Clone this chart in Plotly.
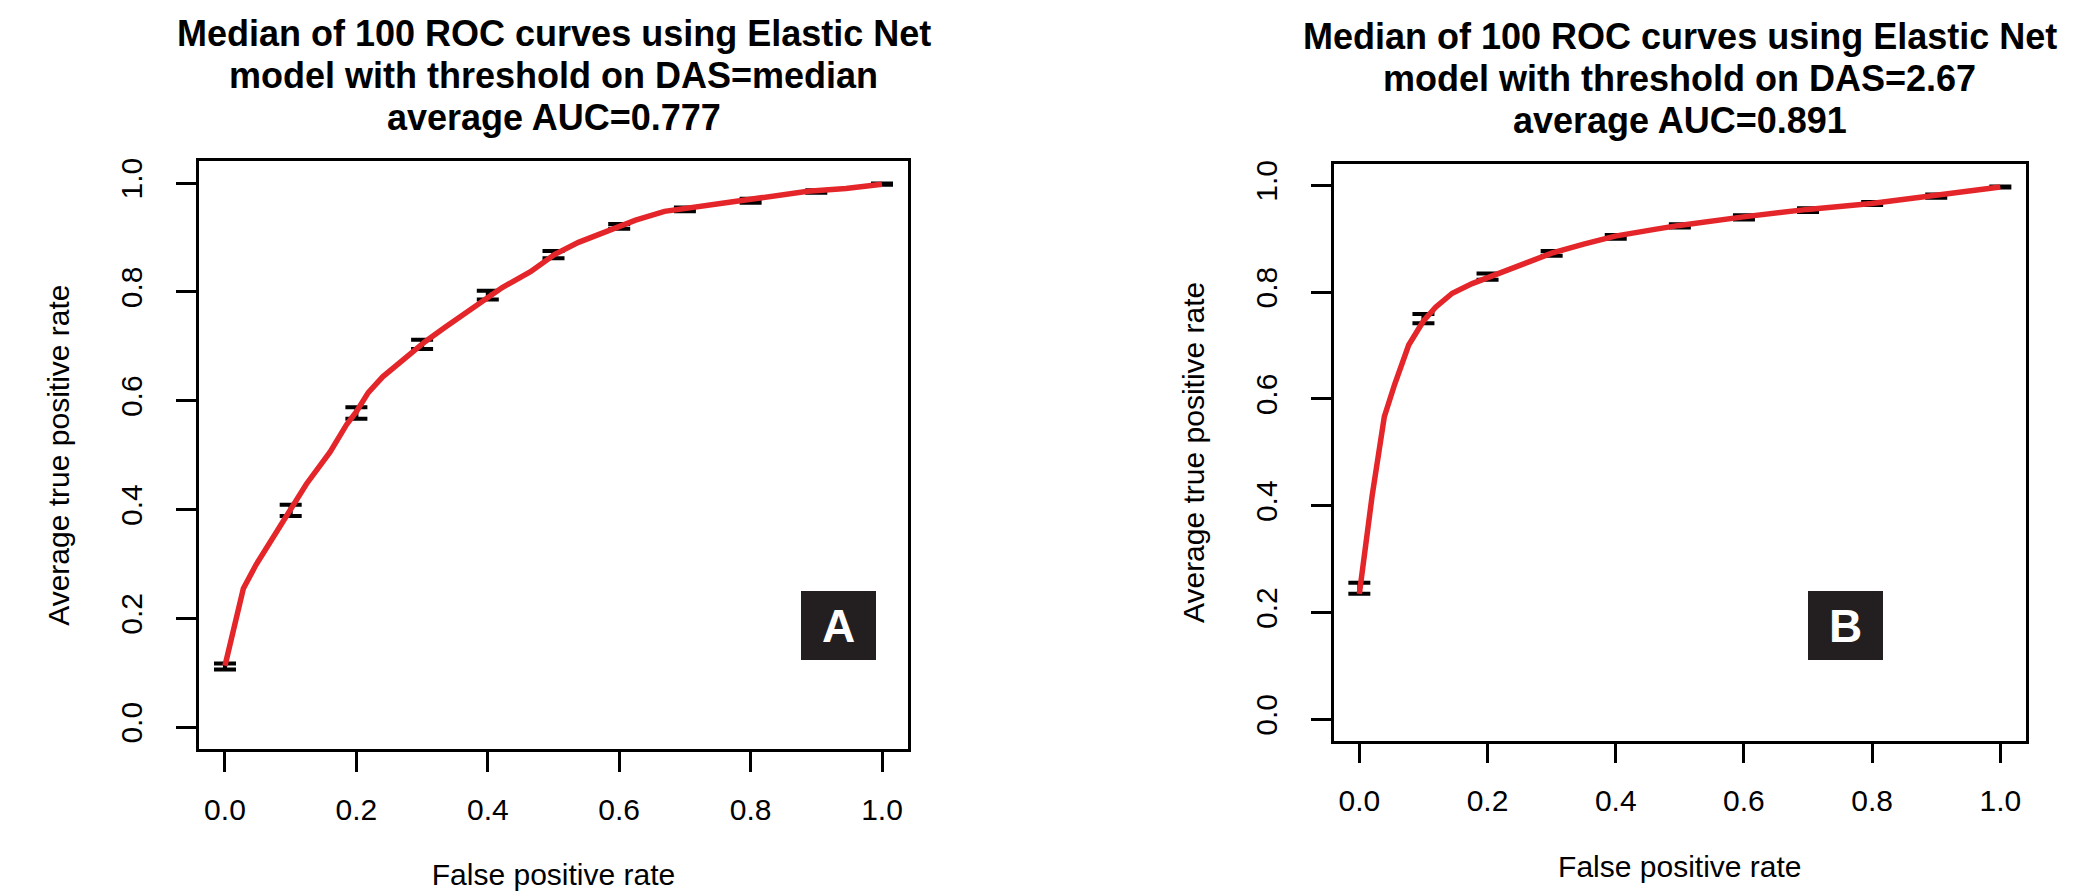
import plotly.graph_objects as go

W, H = 2084, 896

# ---------------- data ----------------
fpr_grid = [0.0, 0.1, 0.2, 0.3, 0.4, 0.5, 0.6, 0.7, 0.8, 0.9, 1.0]

a_upper = [0.117, 0.409, 0.588, 0.712, 0.802, 0.875, 0.925, 0.955, 0.971, 0.987, 0.999]
a_lower = [0.106, 0.388, 0.567, 0.695, 0.786, 0.862, 0.916, 0.948, 0.964, 0.982, 0.997]
a_curve_x = [0.0, 0.028, 0.047, 0.073, 0.098, 0.124, 0.160, 0.185, 0.200, 0.218, 0.240,
             0.269, 0.305, 0.335, 0.371, 0.400, 0.422, 0.465, 0.502, 0.538, 0.582,
             0.600, 0.625, 0.669, 0.698, 0.756, 0.800, 0.844, 0.887, 0.945, 1.0]
a_curve_y = [0.113, 0.255, 0.298, 0.349, 0.400, 0.447, 0.506, 0.556, 0.580, 0.615, 0.644,
             0.673, 0.709, 0.735, 0.764, 0.790, 0.808, 0.837, 0.869, 0.891, 0.913,
             0.922, 0.932, 0.948, 0.953, 0.962, 0.969, 0.977, 0.985, 0.990, 0.998]

b_upper = [0.256, 0.759, 0.835, 0.877, 0.907, 0.927, 0.944, 0.957, 0.969, 0.983, 0.998]
b_lower = [0.235, 0.742, 0.823, 0.868, 0.900, 0.921, 0.936, 0.950, 0.963, 0.977, 0.996]
b_curve_x = [0.0, 0.020, 0.039, 0.055, 0.077, 0.100, 0.119, 0.145, 0.176, 0.200, 0.251,
             0.300, 0.350, 0.399, 0.463, 0.499, 0.599, 0.699, 0.799, 0.899, 1.0]
b_curve_y = [0.235, 0.419, 0.567, 0.627, 0.701, 0.746, 0.772, 0.798, 0.816, 0.827, 0.853,
             0.873, 0.890, 0.905, 0.918, 0.925, 0.941, 0.955, 0.966, 0.981, 0.997]

tick_vals = [0.0, 0.2, 0.4, 0.6, 0.8, 1.0]
tick_text = ["0.0", "0.2", "0.4", "0.6", "0.8", "1.0"]

titles_a = ["Median of 100 ROC curves using Elastic Net",
            "model with threshold on DAS=median",
            "average AUC=0.777"]
titles_b = ["Median of 100 ROC curves using Elastic Net",
            "model with threshold on DAS=2.67",
            "average AUC=0.891"]
x_title = "False positive rate"
y_title = "Average true positive rate"
panel_labels = ["A", "B"]

# ---------------- layout helpers (pixels -> paper) ----------------
FONT = "Liberation Sans, Arial, Helvetica, sans-serif"
RED = "#E4262A"

# plot boxes in pixels: left, top, right, bottom
boxes = [(190.7, 153.3, 900.3, 741.0), (1325.7, 156.0, 2018.0, 732.7)]


def px_x(v):
    return v / W


def px_y(v):
    return 1 - v / H


fig = go.Figure()

panels = [
    (a_upper, a_lower, a_curve_x, a_curve_y, titles_a),
    (b_upper, b_lower, b_curve_x, b_curve_y, titles_b),
]

annotations = []
for i, (up, lo, cx, cy, ttl) in enumerate(panels):
    xa = "x" if i == 0 else "x2"
    ya = "y" if i == 0 else "y2"
    mid = [(u + l) / 2 for u, l in zip(up, lo)]
    eplus = [u - m for u, m in zip(up, mid)]
    eminus = [m - l for m, l in zip(mid, lo)]
    fig.add_trace(go.Scatter(
        x=fpr_grid, y=mid, xaxis=xa, yaxis=ya, mode="markers",
        marker=dict(size=1, color="rgba(0,0,0,0)"),
        error_y=dict(type="data", symmetric=False, array=eplus, arrayminus=eminus,
                     color="black", thickness=4, width=11),
        showlegend=False, hoverinfo="skip"))
    fig.add_trace(go.Scatter(
        x=cx, y=cy, xaxis=xa, yaxis=ya, mode="lines",
        line=dict(color=RED, width=5.5), showlegend=False))

    l, t, r, b = boxes[i]
    cxp = (l + r) / 2
    shift = 0 if i == 0 else 2
    for k, line in enumerate(ttl):
        annotations.append(dict(
            text="<b>%s</b>" % line, x=px_x(cxp), y=px_y(26 + 42 * k + shift),
            xref="paper", yref="paper", xanchor="center", yanchor="middle",
            showarrow=False, font=dict(family=FONT, size=36, color="black")))
    # panel letter badge
    bx = 830 if i == 0 else 1837
    annotations.append(dict(
        text="<b>%s</b>" % panel_labels[i], x=px_x(bx), y=px_y(617.5),
        xref="paper", yref="paper", xanchor="center", yanchor="middle",
        width=75, height=69, bgcolor="#231F20", borderpad=0, borderwidth=0,
        showarrow=False, font=dict(family=FONT, size=46, color="white")))

axis_common = dict(
    range=[-0.04, 1.04], showgrid=False, zeroline=False,
    showline=True, mirror=True, linecolor="black", linewidth=2.5,
    ticks="outside", ticklen=20, tickwidth=2.5, tickcolor="black",
    tickvals=tick_vals, ticktext=tick_text,
    tickfont=dict(family=FONT, size=30, color="black"),
    automargin=False,
)

layout_axes = {}
for i in range(2):
    l, t, r, b = boxes[i]
    sx = "" if i == 0 else "2"
    layout_axes["xaxis" + sx] = dict(
        axis_common, domain=[px_x(l), px_x(r)], anchor="y" + sx,
        ticklabelstandoff=12,
        title=dict(text=x_title, font=dict(family=FONT, size=30, color="black"), standoff=40))
    layout_axes["yaxis" + sx] = dict(
        axis_common, domain=[px_y(b), px_y(t)], anchor="x" + sx,
        tickangle=-90, ticklabelstandoff=22,
        title=dict(text=y_title, font=dict(family=FONT, size=30, color="black"), standoff=37))

fig.update_layout(
    width=W, height=H, autosize=False,
    margin=dict(l=0, r=0, t=0, b=0, pad=0),
    paper_bgcolor="white", plot_bgcolor="white",
    annotations=annotations,
    **layout_axes,
)

fig.write_html("out.html")
